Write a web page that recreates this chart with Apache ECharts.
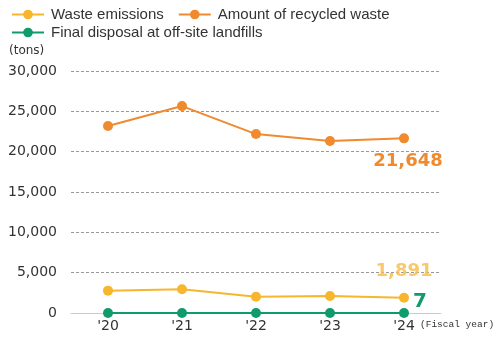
<!DOCTYPE html>
<html><head><meta charset="utf-8">
<script src="https://cdn.jsdelivr.net/npm/echarts@6/dist/echarts.min.js"></script>
<style>html,body{margin:0;padding:0;background:#fff}#c{width:493px;height:343px}</style>
</head><body><div id="c"></div>
<script>
const years = ["'20", "'21", "'22", "'23", "'24"];
const wasteEmissions = [2770, 2940, 2020, 2110, 1891];
const recycledWaste = [23180, 25650, 22180, 21320, 21648];
const finalDisposal = [10, 9, 8, 6, 7];
const yTicks = [0, 5000, 10000, 15000, 20000, 25000, 30000];
const seriesNames = ['Waste emissions', 'Amount of recycled waste', 'Final disposal at off-site landfills'];

const cOrange = '#ef8a2f', cYellow = '#f7b62c', cGreen = '#0f9b6b';
const numFont = '"DejaVu Sans", sans-serif';

function lastLabel(arr, label) {
  return arr.map((v, i) => i === arr.length - 1 ? { value: v, label: Object.assign({ show: true }, label) } : v);
}
const legendText = { fontFamily: '"Liberation Sans", Arial, sans-serif', fontSize: 15, color: '#333', padding: [0, 0, 0, 2] };

const chart = echarts.init(document.getElementById('c'), null, { renderer: 'canvas' });
chart.setOption({
  animation: false,
  legend: [
    { left: 6, top: 2, itemWidth: 32, itemHeight: 12, itemGap: 14, textStyle: legendText, data: seriesNames.slice(0, 2) },
    { left: 6, top: 20, itemWidth: 32, itemHeight: 12, itemGap: 14, textStyle: legendText, data: seriesNames.slice(2) }
  ],
  grid: { left: 71, right: 52, top: 71, bottom: 30, containLabel: false },
  xAxis: {
    type: 'category', data: years, boundaryGap: true,
    axisLine: { lineStyle: { color: '#cccccc' } },
    axisTick: { show: false },
    axisLabel: { fontFamily: numFont, fontSize: 14, color: '#333', margin: 6 }
  },
  yAxis: {
    type: 'value', min: yTicks[0], max: yTicks[yTicks.length - 1], interval: 5000,
    name: '(tons)', nameLocation: 'end', nameGap: 14,
    nameTextStyle: { fontFamily: numFont, fontSize: 12, color: '#333', align: 'left', padding: [0, 0, 0, -62] },
    axisLine: { show: false }, axisTick: { show: false },
    axisLabel: { fontFamily: numFont, fontSize: 14, color: '#333', margin: 14,
      formatter: v => v.toLocaleString('en-US') },
    splitLine: { lineStyle: { color: '#999', type: [3, 2], width: 1 } }
  },
  graphic: [{
    type: 'text', left: 420, top: 319,
    style: { text: '(Fiscal year)', fontFamily: '"Liberation Mono", monospace', fontSize: 9.5, fill: '#333' }
  }],
  series: [
    {
      name: seriesNames[0], type: 'line', z: 3,
      data: lastLabel(wasteEmissions, { position: 'top', distance: 12, fontFamily: numFont, fontSize: 18, fontWeight: 'bold', color: 'rgba(247,190,80,0.85)', formatter: p => p.value.toLocaleString('en-US') }),
      symbol: 'circle', symbolSize: 10,
      itemStyle: { color: cYellow }, lineStyle: { color: cYellow, width: 2 }
    },
    {
      name: seriesNames[1], type: 'line', z: 3,
      data: lastLabel(recycledWaste, { position: 'bottom', distance: 9, offset: [4, 0], fontFamily: numFont, fontSize: 18, fontWeight: 'bold', color: cOrange, formatter: p => p.value.toLocaleString('en-US') }),
      symbol: 'circle', symbolSize: 10,
      itemStyle: { color: cOrange }, lineStyle: { color: cOrange, width: 2 }
    },
    {
      name: seriesNames[2], type: 'line', z: 4,
      data: lastLabel(finalDisposal, { position: 'right', distance: 4, offset: [0, -11], fontFamily: numFont, fontSize: 20, fontWeight: 'bold', color: cGreen, formatter: p => String(p.value) }),
      symbol: 'circle', symbolSize: 10,
      itemStyle: { color: cGreen }, lineStyle: { color: cGreen, width: 2 }
    }
  ]
});
</script></body></html>
